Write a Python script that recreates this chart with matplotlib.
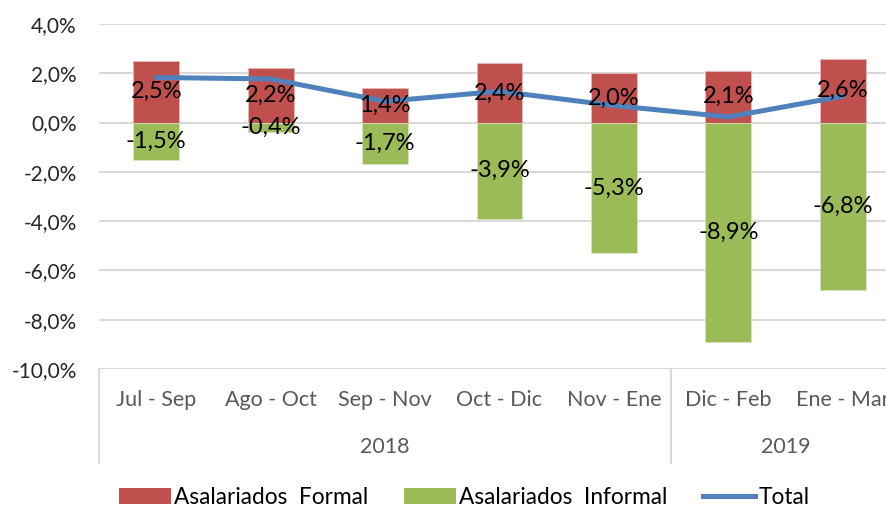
import matplotlib
matplotlib.use("Agg")
import matplotlib.pyplot as plt
from matplotlib.patches import Patch
from matplotlib.lines import Line2D

categories = ["Jul - Sep", "Ago - Oct", "Sep - Nov", "Oct - Dic", "Nov - Ene", "Dic - Feb", "Ene - Mar"]
years = ["2018", "2019"]
year_spans = [(0, 4), (5, 6)]
formal = [2.5, 2.2, 1.4, 2.4, 2.0, 2.1, 2.6]
informal = [-1.5, -0.4, -1.7, -3.9, -5.3, -8.9, -6.8]
total = [1.83, 1.77, 0.86, 1.27, 0.69, 0.23, 1.07]
yticks = [-10, -8, -6, -4, -2, 0, 2, 4]

FONT = "Lato"
RED = "#C0504D"
GREEN = "#9BBB59"
BLUE = "#4F81BD"
GRID = "#D9D9D9"

fig = plt.figure(figsize=(8.86, 5.08), dpi=100)
ax = fig.add_axes([99/886, 1-369/508, 801/886, 345/508])
x = list(range(len(categories)))
ax.set_xlim(-0.5, 6.5)
ax.set_ylim(-10, 4)

for v in yticks:
    ax.axhline(v, color=GRID, lw=1.5, zorder=0)

bw = 0.4
ax.bar(x, formal, width=bw, color=RED, edgecolor="#E6B9B8", linewidth=0.6, zorder=2)
ax.bar(x, informal, width=bw, color=GREEN, edgecolor="#D7E4BD", linewidth=0.6, zorder=2)
ax.plot(x, total, color=BLUE, lw=3.6, solid_capstyle="round", zorder=3)

def fmt(v):
    return f"{v:.1f}%".replace(".", ",")

for xi, f, i in zip(x, formal, informal):
    ax.text(xi, f/2, fmt(f), ha="center", va="center", fontsize=17, family=FONT, color="black", zorder=4)
    ax.text(xi, i/2, fmt(i), ha="center", va="center", fontsize=17, family=FONT, color="black", zorder=4)

ax.set_yticks(yticks)
ax.set_yticklabels([fmt(v) for v in yticks], fontsize=15, family=FONT, color="#262626")
ax.tick_params(axis="y", length=0, pad=16)
ax.set_xticks([])
for s in ax.spines.values():
    s.set_visible(False)

trans = ax.get_xaxis_transform()
low = -94/345
for xv in [-0.5, 4.5, 6.5]:
    ax.plot([xv, xv], [0, low], transform=trans, color=GRID, lw=1.5, clip_on=False)
for xi, c in zip(x, categories):
    ax.text(xi, -31/345, c, transform=trans, ha="center", va="center", fontsize=15.5, family=FONT, color="#595959")
for (a, b), y in zip(year_spans, years):
    ax.text((a+b)/2, -78/345, y, transform=trans, ha="center", va="center", fontsize=15.5, family=FONT, color="#595959")

handles = [Patch(facecolor=RED), Patch(facecolor=GREEN), Line2D([0], [0], color=BLUE, lw=3.6)]
labels = ["Asalariados  Formal", "Asalariados  Informal", "Total"]
fig.legend(handles, labels, loc="center", bbox_to_anchor=(464/886, 1-497/508), ncol=3, frameon=False,
           prop={"family": FONT, "size": 16.3}, handlelength=2.3, handleheight=0.7, handletextpad=0.12,
           columnspacing=1.6)

fig.savefig("out.png", dpi=100)
